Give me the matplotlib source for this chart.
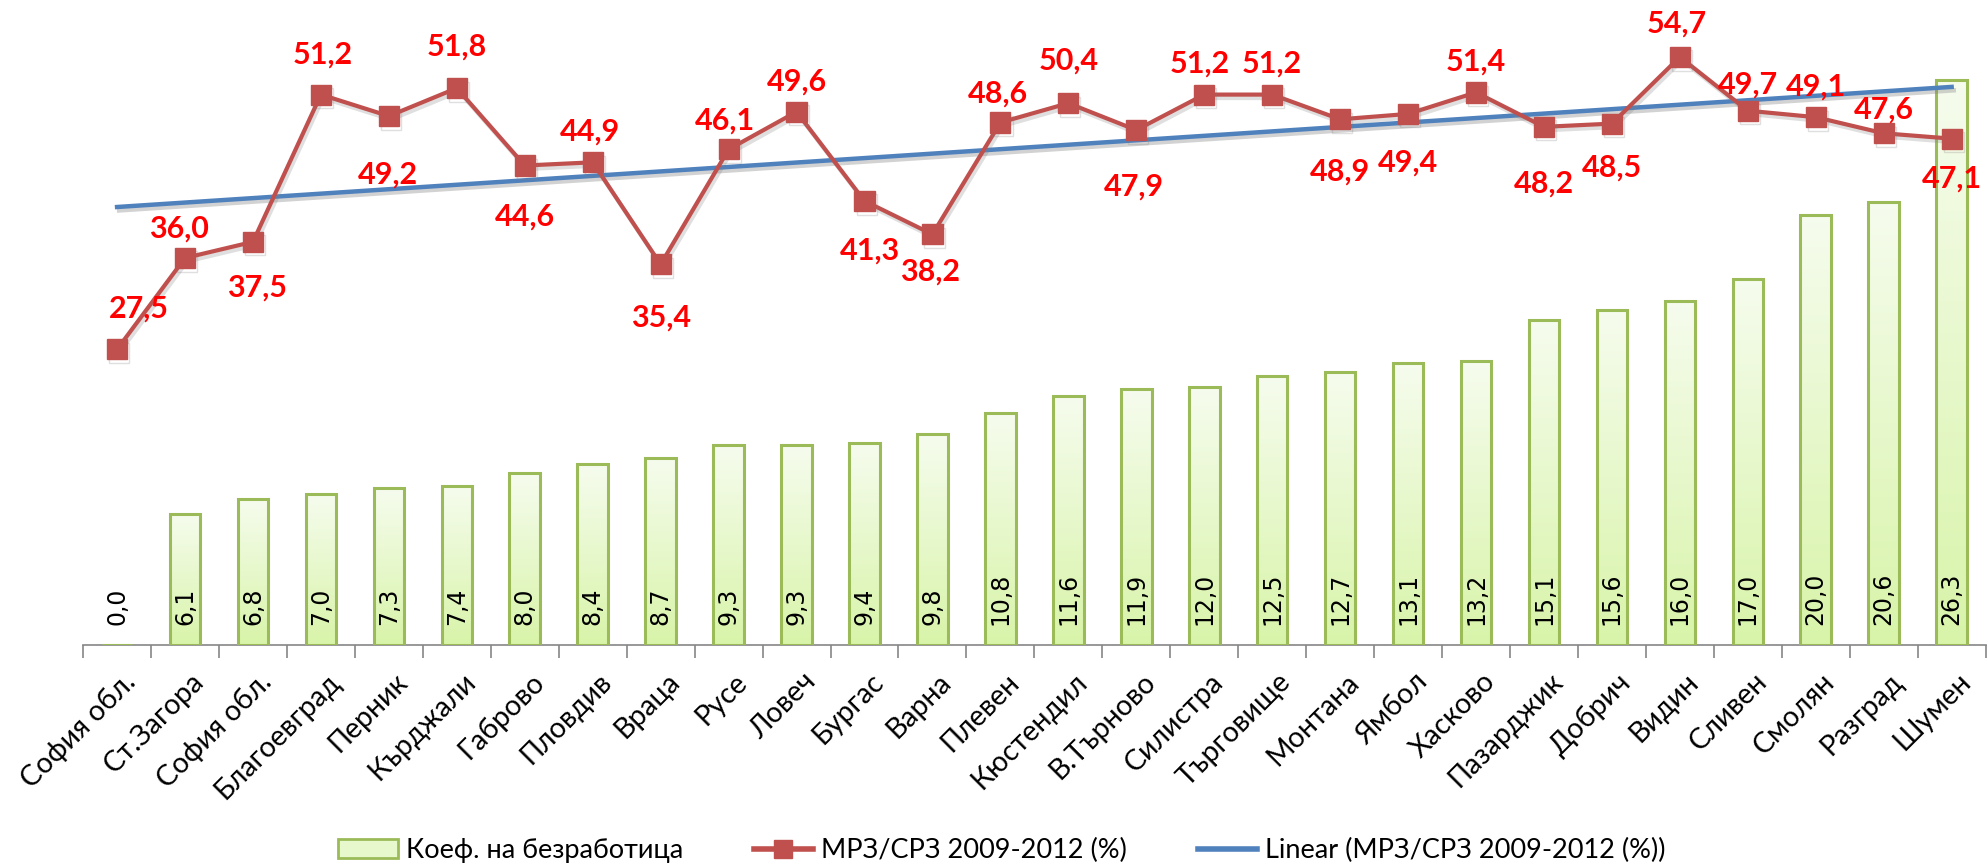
import numpy as np
import matplotlib
matplotlib.use("Agg")
import matplotlib.pyplot as plt
from matplotlib.lines import Line2D
from matplotlib.patches import Patch
from matplotlib.transforms import ScaledTranslation
import matplotlib.patheffects as pe

categories = ["София обл.", "Ст.Загора", "София обл.", "Благоевград", "Перник", "Кърджали",
              "Габрово", "Пловдив", "Враца", "Русе", "Ловеч", "Бургас", "Варна", "Плевен",
              "Кюстендил", "В.Търново", "Силистра", "Търговище", "Монтана", "Ямбол", "Хасково",
              "Пазарджик", "Добрич", "Видин", "Сливен", "Смолян", "Разград", "Шумен"]
unemployment = [0.0, 6.1, 6.8, 7.0, 7.3, 7.4, 8.0, 8.4, 8.7, 9.3, 9.3, 9.4, 9.8, 10.8,
                11.6, 11.9, 12.0, 12.5, 12.7, 13.1, 13.2, 15.1, 15.6, 16.0, 17.0, 20.0, 20.6, 26.3]
wage_ratio = [27.5, 36.0, 37.5, 51.2, 49.2, 51.8, 44.6, 44.9, 35.4, 46.1, 49.6, 41.3, 38.2, 48.6,
              50.4, 47.9, 51.2, 51.2, 48.9, 49.4, 51.4, 48.2, 48.5, 54.7, 49.7, 49.1, 47.6, 47.1]
# label placement (points offset) for the line labels
label_dx = [16, -4, 3, 1, -1, 0, 0, -2, 0, -3, 0, 4, -2, -2, 0, -2, -3, 0, 0, 0, 0, 0, 0, -2, 0, 0, 0, 0]
label_dy = [29, 21, -33, 29, -42, 30, -37, 22, -38, 21, 22, -36, -27, 21, 31, -41, 22, 22, -38, -35,
            22, -41, -32, 24, 19, 22, 17, -29]

bar_label = "Коеф. на безработица"
line_label = "МРЗ/СРЗ 2009-2012 (%)"
trend_label = "Linear (МРЗ/СРЗ 2009-2012 (%))"

red = "#c0504d"
blue = "#4f81bd"
green_edge = "#9bbb59"
font = ["Lato", "DejaVu Sans"]
plt.rcParams["font.family"] = font

fig = plt.figure(figsize=(19.88, 8.68), dpi=100)
ax = fig.add_axes([0.0418, 0.257, 0.957, 0.743])
x = np.arange(len(categories))

bars = ax.bar(x, unemployment, width=0.45, facecolor="none", edgecolor=green_edge,
              linewidth=2.2, zorder=3)
grad = np.linspace(0, 1, 256)[:, None]
top = np.array(matplotlib.colors.to_rgb("#f6fcee"))
bot = np.array(matplotlib.colors.to_rgb("#d8f4a9"))
img = top[None, None, :] * (1 - grad[:, :, None]) + bot[None, None, :] * grad[:, :, None]
for r in bars:
    if r.get_height() > 0:
        ax.imshow(img, extent=[r.get_x(), r.get_x() + r.get_width(), 0, r.get_height()],
                  aspect="auto", zorder=2, interpolation="bilinear")

for xi, v in zip(x, unemployment):
    ax.annotate(f"{v:.1f}".replace(".", ","), xy=(xi, 0), xytext=(0, 14),
                textcoords="offset points", rotation=90, ha="center", va="bottom",
                fontsize=17, family=["DejaVu Sans"], color="black", zorder=5)

ax.set_xlim(-0.5, len(categories) - 0.5)
ax.set_ylim(0, 30)
ax.set_yticks([])
for s in ["top", "right", "left"]:
    ax.spines[s].set_visible(False)
ax.spines["bottom"].set_color("#868686")
ax.spines["bottom"].set_linewidth(1.2)
ax.set_xticks(x)
ax.set_xticklabels(categories, rotation=45, ha="right", va="top", rotation_mode="anchor",
                   fontsize=20.5)
ax.tick_params(axis="x", length=0, pad=17)
for lbl in ax.get_xticklabels():
    lbl.set_transform(lbl.get_transform() + ScaledTranslation(4 / 72, 0, fig.dpi_scale_trans))
ax.set_xticks(np.arange(len(categories) + 1) - 0.5, minor=True)
ax.tick_params(axis="x", which="minor", length=9, width=1.2, color="#868686")

ax2 = ax.twinx()
ax2.set_ylim(0, 60)
ax2.set_yticks([])
for s in ax2.spines.values():
    s.set_visible(False)

coef = np.polyfit(x, wage_ratio, 1)
trend = np.polyval(coef, x)
ax2.plot(x, trend, color=blue, linewidth=3.2, zorder=4,
         path_effects=[pe.SimpleLineShadow(offset=(1.5, -2.5), shadow_color="gray", alpha=0.35),
                       pe.Normal()])
ax2.plot(x, wage_ratio, color=red, linewidth=3, marker="s", markersize=14.5,
         markerfacecolor=red, markeredgecolor=red, zorder=5,
         path_effects=[pe.SimpleLineShadow(offset=(1.5, -2.5), shadow_color="gray", alpha=0.25),
                       pe.Normal()])
for xi, v, dx, dy in zip(x, wage_ratio, label_dx, label_dy):
    ax2.annotate(f"{v:.1f}".replace(".", ","), xy=(xi, v), xytext=(dx, dy),
                 textcoords="offset points", ha="center", va="center", fontsize=22,
                 fontweight="bold", color="#ff0000", zorder=6, annotation_clip=False)

handles = [Patch(facecolor="#e6f8cc", edgecolor=green_edge, linewidth=2),
           Line2D([0], [0], color=red, linewidth=4, marker="s", markersize=13),
           Line2D([0], [0], color=blue, linewidth=4)]
fig.legend(handles, [bar_label, line_label, trend_label], loc="center",
           bbox_to_anchor=(0.504, 0.02), ncol=3, frameon=False, fontsize=19.5,
           columnspacing=2.6, handlelength=2.2, handletextpad=0.3)

fig.savefig("out.png", dpi=100)
